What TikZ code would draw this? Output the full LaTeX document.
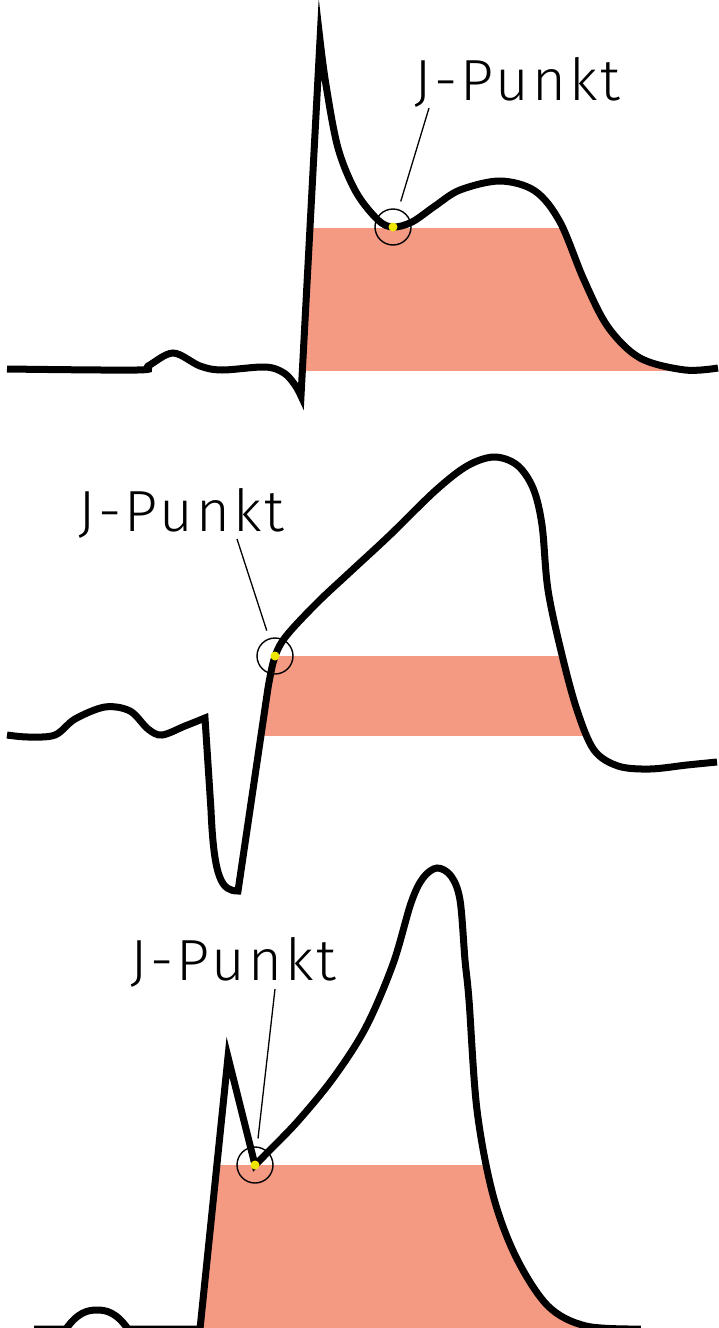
\documentclass[tikz,border=0pt]{standalone}
\usepackage{fontspec}
\newfontfamily\labelfont[LetterSpace=5.5]{Fira Sans Light}
\usetikzlibrary{positioning}
\definecolor{stfill}{RGB}{245,154,130}
\definecolor{jyellow}{RGB}{238,230,0}

% ECG pieces (pixel coordinates, y downwards)
\newcommand\ecgbaseA{plot[smooth,tension=0.55] coordinates {(7,369) (137,370) (148,366) (173,353) (200,366) (222,370) (265,367) (284,373) (295,385) (301,396)}}
\newcommand\ecgstA{-- plot[smooth,tension=0.55] coordinates {(320,40) (326,85) (338,148) (356,192) (378,220) (393,227) (412,222) (435,206) (460,190) (500,181) (535,191) (560,222) (584,280) (608,327) (640,358) (685,370) (718,368)}}
\newcommand\ecgbaseB{plot[smooth,tension=0.55] coordinates {(7,735) (28,737) (55,735) (75,719) (105,707) (130,711) (148,729) (162,735) (185,726) (205,718)} -- (211,810) .. controls (214,880) and (222,891) .. (238,891)}
\newcommand\ecgstB{-- plot[smooth,tension=0.55] coordinates {(268,688) (273,663) (280,645) (293,628) (320,600) (349,573) (390,535) (435,491) (467,466) (494,457) (517,465) (533,488) (542,525) (548,590) (562,655) (577,710) (594,750) (618,766) (650,769) (687,765) (717,762)}}
\newcommand\ecgbaseC{(34,1329) -- (66,1329) .. controls (78,1312) and (88,1310) .. (97,1310) .. controls (106,1310) and (116,1312) .. (128,1329) -- (200,1329)}
\newcommand\ecgstC{-- plot[smooth,tension=0.55] coordinates {(255,1165) (266,1154) (298,1121) (334,1077) (366,1027) (393,964) (411,903) (423,878) (437,868) (451,876) (460,900) (465,960) (469,1000) (477,1110) (493,1195) (516,1257) (548,1306) (586,1326) (641,1329)}}

\tikzset{
  ecg/.style={line width=7pt, line join=miter, miter limit=30},
  jring/.style={circle, draw, line width=1.4pt, minimum size=36pt, inner sep=0pt},
  jdot/.style={fill=jyellow},
  leader/.style={line width=1.3pt, shorten >=8pt},
  jlabel/.style={anchor=base west, inner sep=0pt, font=\labelfont\fontsize{58}{60}\selectfont}
}

\begin{document}
\begin{tikzpicture}[x=1pt, y=-1pt]
  \useasboundingbox (0,0) rectangle (718,1328);

  % ST areas
  \begin{scope}
    \clip (301,396) \ecgstA -- (718,407) -- (301,407) -- cycle;
    \fill[stfill] (290,228) rectangle (718,371);
  \end{scope}
  \begin{scope}
    \clip (238,891) \ecgstB -- (718,900) -- (238,900) -- cycle;
    \fill[stfill] (230,656) rectangle (718,736);
  \end{scope}
  \begin{scope}
    \clip (200,1340) -- (200,1329) -- (228,1057) \ecgstC -- (718,1340) -- cycle;
    \fill[stfill] (190,1165) rectangle (718,1340);
  \end{scope}

  % curves
  \draw[ecg] \ecgbaseA \ecgstA;
  \draw[ecg] \ecgbaseB \ecgstB;
  \draw[ecg] \ecgbaseC -- (228,1057) \ecgstC;

  % J points
  \node[jring] (jA) at (393,227) {};
  \node[jring] (jB) at (275,656) {};
  \node[jring] (jC) at (255,1165) {};
  \fill[jdot] (jA.center) circle (4.5pt);
  \fill[jdot] (jB.center) circle (4.5pt);
  \fill[jdot] (jC.center) circle (4.5pt);

  % labels
  \node[jlabel] (lblA) at (414,100) {J-Punkt};
  \node[jlabel] (lblB) at (78,531) {J-Punkt};
  \node[jlabel] (lblC) at (130,980) {J-Punkt};
  \coordinate (tA) at (429,108);
  \coordinate (tB) at (237,539);
  \coordinate (tC) at (275,989);
  \draw[leader] (tA) -- (jA);
  \draw[leader] (tB) -- (jB);
  \draw[leader] (tC) -- (jC);
\end{tikzpicture}
\end{document}
